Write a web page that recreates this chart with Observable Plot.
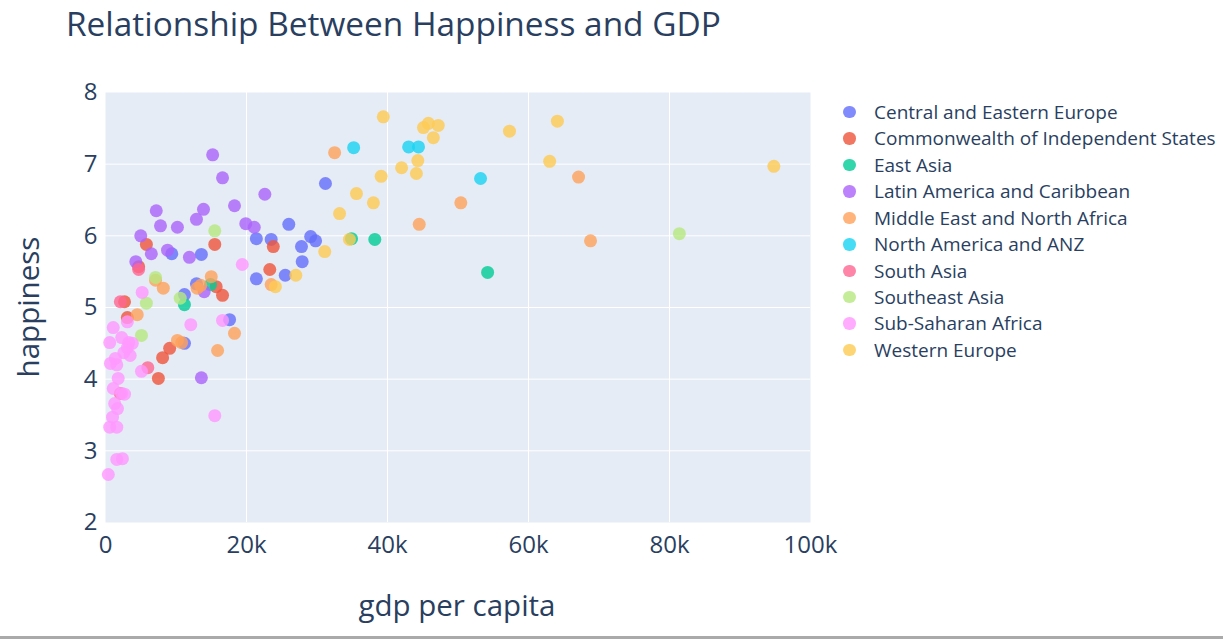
<!DOCTYPE html>
<html><head><meta charset="utf-8">
<script src="https://cdn.jsdelivr.net/npm/d3@7"></script>
<script src="https://cdn.jsdelivr.net/npm/@observablehq/plot@0.6"></script>
<style>
body{margin:0;background:#fff;}
#wrap{position:relative;width:1223px;height:639px;font-family:"Open Sans",sans-serif;color:#2a3f5f;overflow:hidden}
#chart{position:absolute;left:0;top:0}
.t{position:absolute;white-space:nowrap;line-height:1}
#title{left:66px;top:0px;font-size:33.4px;line-height:normal}
#xt{left:457px;top:590px;font-size:29.5px;transform:translateX(-50%)}
#yt{left:28px;top:307px;font-size:29.5px;transform:translate(-50%,-50%) rotate(-90deg)}
#legend{position:absolute;left:840px;top:0;width:383px;height:400px}
.li{position:absolute;left:0;height:26.4px;line-height:26.4px;font-size:19px;white-space:nowrap}
.li span.m{position:absolute;left:3px;top:7px;width:12.5px;height:12.5px;border-radius:50%;opacity:0.8}
.li span.l{position:absolute;left:34px;top:0}
#bar{position:absolute;left:0;top:636px;width:1223px;height:3px;background:#aaa}
</style></head>
<body><div id="wrap">
<div id="chart"></div>
<div class="t" id="title">Relationship Between Happiness and GDP</div>
<div class="t" id="xt">gdp per capita</div>
<div class="t" id="yt">happiness</div>
<div id="legend"></div>
<div id="bar"></div>
</div>
<script>
const regions = ["Central and Eastern Europe","Commonwealth of Independent States","East Asia","Latin America and Caribbean","Middle East and North Africa","North America and ANZ","South Asia","Southeast Asia","Sub-Saharan Africa","Western Europe"];
const colors = ["#636EFA","#EF553B","#00CC96","#AB63FA","#FFA15A","#19D3F3","#FF6692","#B6E880","#FF97FF","#FECB52"];
const xTicks = [0,20000,40000,60000,80000,100000];
const yTicks = [2,3,4,5,6,7,8];

const ceeGdp = [31200,26000,21400,23500,29100,29800,27800,27900,21400,25500,13600,9400,12900,11200,17600,11200];
const ceeHap = [6.73,6.16,5.96,5.95,5.99,5.93,5.85,5.64,5.40,5.45,5.74,5.75,5.33,5.18,4.83,4.50];
const cisGdp = [5800,15500,23800,23300,4700,2700,3100,9100,8100,7500,15700,16600];
const cisHap = [5.88,5.88,5.85,5.53,5.57,5.08,4.86,4.43,4.30,4.01,5.29,5.17];
const eaGdp = [34900,38200,54200,11200,14900];
const eaHap = [5.96,5.95,5.49,5.04,5.32];
const laGdp = [15200,16600,22600,18300,7200,13900,12900,7800,10200,19900,21100,5000,6500,8800,11900,4300,14000,13600];
const laHap = [7.13,6.81,6.58,6.42,6.35,6.37,6.23,6.14,6.12,6.17,6.12,6.00,5.75,5.80,5.70,5.64,5.22,4.02];
const meGdp = [32500,50400,44500,67100,68800,23500,15000,13500,13000,8200,7100,4500,18300,15900,10800,10200];
const meHap = [7.16,6.46,6.16,6.82,5.93,5.32,5.43,5.31,5.27,5.27,5.38,4.90,4.64,4.40,4.51,4.54];
const naGdp = [35200,43000,44400,53200];
const naHap = [7.23,7.24,7.24,6.80];
const saGdp = [2100,4700,6000,2100];
const saHap = [5.08,5.53,4.16,3.80];
const seaGdp = [81400,15500,10600,5800,5100,7100];
const seaHap = [6.03,6.07,5.13,5.06,4.61,5.42];
const ssaGdp = [19400,12100,16600,15500,5200,1100,3100,600,2300,3300,3800,3100,2600,3500,1400,700,1600,5100,1800,1100,2300,2700,1300,1700,1000,600,1600,1600,2400,400];
const ssaHap = [5.60,4.76,4.82,3.49,5.21,4.72,4.80,4.51,4.58,4.51,4.50,4.44,4.37,4.33,4.29,4.22,4.20,4.11,4.01,3.87,3.80,3.79,3.66,3.59,3.47,3.33,3.33,2.88,2.89,2.67];
const weGdp = [39400,45100,45800,47200,46500,57300,64100,44300,42000,44100,39100,63000,38000,94800,35600,33200,31100,34600,27000,24100];
const weHap = [7.66,7.51,7.57,7.54,7.37,7.46,7.60,7.05,6.95,6.87,6.83,7.04,6.46,6.97,6.59,6.31,5.78,5.95,5.45,5.29];

const series = [[ceeGdp,ceeHap],[cisGdp,cisHap],[eaGdp,eaHap],[laGdp,laHap],[meGdp,meHap],[naGdp,naHap],[saGdp,saHap],[seaGdp,seaHap],[ssaGdp,ssaHap],[weGdp,weHap]];
const rows = [];
series.forEach(([g,h],i)=>g.forEach((v,j)=>rows.push({region:regions[i],gdp:v,happiness:h[j]})));

const font = '"Open Sans", sans-serif';
const chart = Plot.plot({
  width:1223, height:639,
  marginLeft:105, marginRight:413, marginTop:92, marginBottom:117,
  style:{fontFamily:font, color:"#2a3f5f", background:"transparent", overflow:"visible"},
  x:{domain:[0,100000]},
  y:{domain:[2,8]},
  color:{domain:regions, range:colors},
  marks:[
    Plot.frame({fill:"#E5ECF6", stroke:null}),
    Plot.gridX(xTicks.slice(1,-1),{stroke:"white",strokeOpacity:1,strokeWidth:1}),
    Plot.gridY(yTicks.slice(1,-1),{stroke:"white",strokeOpacity:1,strokeWidth:1}),
    Plot.axisX({ticks:xTicks, tickSize:0, tickPadding:13, fontSize:24, label:null, tickFormat:d=>d===0?"0":(d/1000)+"k", fill:"#2a3f5f"}),
    Plot.axisY({ticks:yTicks, tickSize:0, tickPadding:8, fontSize:24, label:null, tickFormat:d=>String(d), fill:"#2a3f5f"}),
    Plot.dot(rows,{x:"gdp",y:"happiness",fill:"region",r:6.5,fillOpacity:0.8,stroke:null})
  ]
});
document.getElementById("chart").appendChild(chart);

const lg = document.getElementById("legend");
regions.forEach((r,i)=>{
  const d = document.createElement("div"); d.className="li";
  d.style.top = (112 - 13.2 + i*26.45) + "px";
  d.innerHTML = `<span class="m" style="background:${colors[i]}"></span><span class="l">${r}</span>`;
  lg.appendChild(d);
});
</script>
</body></html>
